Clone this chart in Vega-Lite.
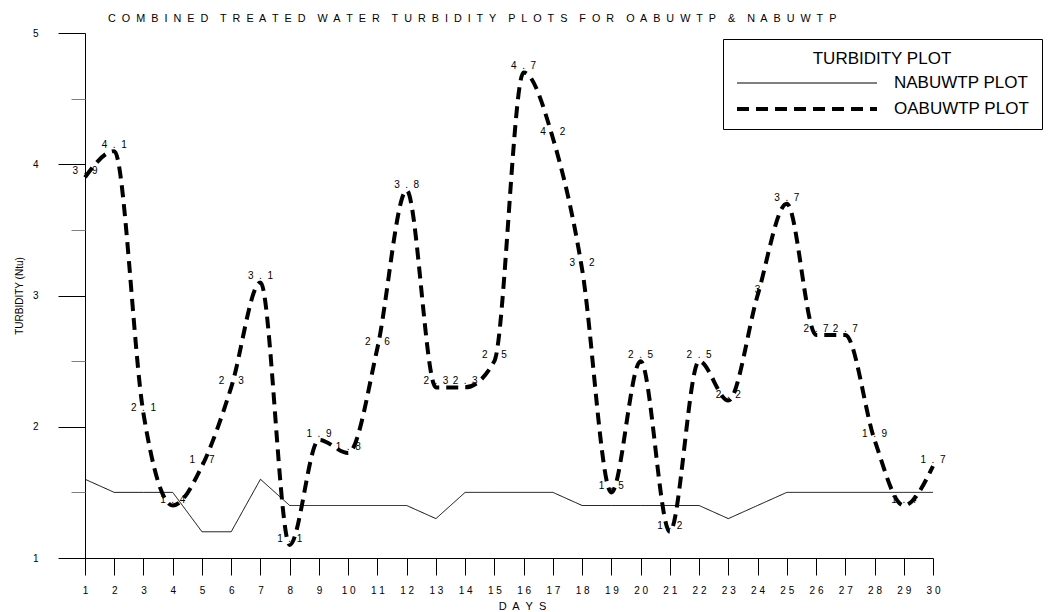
{
  "$schema": "https://vega.github.io/schema/vega-lite/v6.json",
  "width": 848,
  "height": 525,
  "autosize": {"type": "none"},
  "padding": {"left": 85, "top": 33, "right": 124, "bottom": 54},
  "background": "white",
  "config": {
    "font": "Liberation Sans",
    "view": {"stroke": null},
    "axis": {"domainColor": "#000", "tickColor": "#000", "labelColor": "#000", "titleColor": "#000", "grid": false, "titleFontWeight": "normal", "labelFont": "Liberation Sans", "titleFont": "Liberation Sans"},
    "legend": {"labelFont": "Liberation Sans", "titleFont": "Liberation Sans"}
  },
  "title": {
    "text": "C\u00a0 O\u00a0 M\u00a0 B\u00a0 I\u00a0 N\u00a0 E\u00a0 D\u00a0 \u00a0 T\u00a0 R\u00a0 E\u00a0 A\u00a0 T\u00a0 E\u00a0 D\u00a0 \u00a0 W\u00a0 A\u00a0 T\u00a0 E\u00a0 R\u00a0 \u00a0 T\u00a0 U\u00a0 R\u00a0 B\u00a0 I\u00a0 D\u00a0 I\u00a0 T\u00a0 Y\u00a0 \u00a0 P\u00a0 L\u00a0 O\u00a0 T\u00a0 S\u00a0 \u00a0 F\u00a0 O\u00a0 R\u00a0 \u00a0 O\u00a0 A\u00a0 B\u00a0 U\u00a0 W\u00a0 T\u00a0 P\u00a0 \u00a0 &\u00a0 \u00a0 N\u00a0 A\u00a0 B\u00a0 U\u00a0 W\u00a0 T\u00a0 P",
    "anchor": "start",
    "frame": "group",
    "dx": 23,
    "dy": 17,
    "offset": 12,
    "baseline": "alphabetic",
    "fontSize": 10.8,
    "fontWeight": "normal",
    "font": "Liberation Sans",
    "color": "#000"
  },
  "data": {
    "values": [
      {"day": 1, "series": "NABUWTP PLOT", "value": 1.6},
      {"day": 2, "series": "NABUWTP PLOT", "value": 1.5},
      {"day": 3, "series": "NABUWTP PLOT", "value": 1.5},
      {"day": 4, "series": "NABUWTP PLOT", "value": 1.5},
      {"day": 5, "series": "NABUWTP PLOT", "value": 1.2},
      {"day": 6, "series": "NABUWTP PLOT", "value": 1.2},
      {"day": 7, "series": "NABUWTP PLOT", "value": 1.6},
      {"day": 8, "series": "NABUWTP PLOT", "value": 1.4},
      {"day": 9, "series": "NABUWTP PLOT", "value": 1.4},
      {"day": 10, "series": "NABUWTP PLOT", "value": 1.4},
      {"day": 11, "series": "NABUWTP PLOT", "value": 1.4},
      {"day": 12, "series": "NABUWTP PLOT", "value": 1.4},
      {"day": 13, "series": "NABUWTP PLOT", "value": 1.3},
      {"day": 14, "series": "NABUWTP PLOT", "value": 1.5},
      {"day": 15, "series": "NABUWTP PLOT", "value": 1.5},
      {"day": 16, "series": "NABUWTP PLOT", "value": 1.5},
      {"day": 17, "series": "NABUWTP PLOT", "value": 1.5},
      {"day": 18, "series": "NABUWTP PLOT", "value": 1.4},
      {"day": 19, "series": "NABUWTP PLOT", "value": 1.4},
      {"day": 20, "series": "NABUWTP PLOT", "value": 1.4},
      {"day": 21, "series": "NABUWTP PLOT", "value": 1.4},
      {"day": 22, "series": "NABUWTP PLOT", "value": 1.4},
      {"day": 23, "series": "NABUWTP PLOT", "value": 1.3},
      {"day": 24, "series": "NABUWTP PLOT", "value": 1.4},
      {"day": 25, "series": "NABUWTP PLOT", "value": 1.5},
      {"day": 26, "series": "NABUWTP PLOT", "value": 1.5},
      {"day": 27, "series": "NABUWTP PLOT", "value": 1.5},
      {"day": 28, "series": "NABUWTP PLOT", "value": 1.5},
      {"day": 29, "series": "NABUWTP PLOT", "value": 1.5},
      {"day": 30, "series": "NABUWTP PLOT", "value": 1.5},
      {"day": 1, "series": "OABUWTP PLOT", "value": 3.9, "label": "3\u00a0 .\u00a0 9"},
      {"day": 2, "series": "OABUWTP PLOT", "value": 4.1, "label": "4\u00a0 .\u00a0 1"},
      {"day": 3, "series": "OABUWTP PLOT", "value": 2.1, "label": "2\u00a0 .\u00a0 1"},
      {"day": 4, "series": "OABUWTP PLOT", "value": 1.4, "label": "1\u00a0 .\u00a0 4"},
      {"day": 5, "series": "OABUWTP PLOT", "value": 1.7, "label": "1\u00a0 .\u00a0 7"},
      {"day": 6, "series": "OABUWTP PLOT", "value": 2.3, "label": "2\u00a0 .\u00a0 3"},
      {"day": 7, "series": "OABUWTP PLOT", "value": 3.1, "label": "3\u00a0 .\u00a0 1"},
      {"day": 8, "series": "OABUWTP PLOT", "value": 1.1, "label": "1\u00a0 .\u00a0 1"},
      {"day": 9, "series": "OABUWTP PLOT", "value": 1.9, "label": "1\u00a0 .\u00a0 9"},
      {"day": 10, "series": "OABUWTP PLOT", "value": 1.8, "label": "1\u00a0 .\u00a0 8"},
      {"day": 11, "series": "OABUWTP PLOT", "value": 2.6, "label": "2\u00a0 .\u00a0 6"},
      {"day": 12, "series": "OABUWTP PLOT", "value": 3.8, "label": "3\u00a0 .\u00a0 8"},
      {"day": 13, "series": "OABUWTP PLOT", "value": 2.3, "label": "2\u00a0 .\u00a0 3"},
      {"day": 14, "series": "OABUWTP PLOT", "value": 2.3, "label": "2\u00a0 .\u00a0 3"},
      {"day": 15, "series": "OABUWTP PLOT", "value": 2.5, "label": "2\u00a0 .\u00a0 5"},
      {"day": 16, "series": "OABUWTP PLOT", "value": 4.7, "label": "4\u00a0 .\u00a0 7"},
      {"day": 17, "series": "OABUWTP PLOT", "value": 4.2, "label": "4\u00a0 .\u00a0 2"},
      {"day": 18, "series": "OABUWTP PLOT", "value": 3.2, "label": "3\u00a0 .\u00a0 2"},
      {"day": 19, "series": "OABUWTP PLOT", "value": 1.5, "label": "1\u00a0 .\u00a0 5"},
      {"day": 20, "series": "OABUWTP PLOT", "value": 2.5, "label": "2\u00a0 .\u00a0 5"},
      {"day": 21, "series": "OABUWTP PLOT", "value": 1.2, "label": "1\u00a0 .\u00a0 2"},
      {"day": 22, "series": "OABUWTP PLOT", "value": 2.5, "label": "2\u00a0 .\u00a0 5"},
      {"day": 23, "series": "OABUWTP PLOT", "value": 2.2, "label": "2\u00a0 .\u00a0 2"},
      {"day": 24, "series": "OABUWTP PLOT", "value": 3.0, "label": "3"},
      {"day": 25, "series": "OABUWTP PLOT", "value": 3.7, "label": "3\u00a0 .\u00a0 7"},
      {"day": 26, "series": "OABUWTP PLOT", "value": 2.7, "label": "2\u00a0 .\u00a0 7"},
      {"day": 27, "series": "OABUWTP PLOT", "value": 2.7, "label": "2\u00a0 .\u00a0 7"},
      {"day": 28, "series": "OABUWTP PLOT", "value": 1.9, "label": "1\u00a0 .\u00a0 9"},
      {"day": 29, "series": "OABUWTP PLOT", "value": 1.4, "label": "1\u00a0 .\u00a0 4"},
      {"day": 30, "series": "OABUWTP PLOT", "value": 1.7, "label": "1\u00a0 .\u00a0 7"}
    ]
  },
  "encoding": {
    "x": {
      "field": "day",
      "type": "quantitative",
      "scale": {"domain": [1, 30], "nice": false, "zero": false},
      "axis": {
        "values": [1,2,3,4,5,6,7,8,9,10,11,12,13,14,15,16,17,18,19,20,21,22,23,24,25,26,27,28,29,30],
        "labelExpr": "length(datum.label) > 1 ? slice(datum.label, 0, 1) + ' ' + slice(datum.label, 1) : datum.label",
        "tickSize": 17,
        "labelPadding": 10,
        "labelFontSize": 10,
        "labelFlush": false,
        "labelOverlap": false,
        "title": "D\u00a0 A\u00a0 Y\u00a0 S",
        "titleFontSize": 11,
        "titleX": 437,
        "titleY": 48,
        "titleAlign": "center",
        "titleBaseline": "middle",
        "domainWidth": 1,
        "tickWidth": 1
      }
    }
  },
  "layer": [
    {
      "transform": [{"filter": "datum.series === 'NABUWTP PLOT'"}],
      "mark": {"type": "line", "interpolate": "linear"},
      "encoding": {
        "y": {
          "field": "value",
          "type": "quantitative",
          "scale": {"domain": [1, 5], "nice": false, "zero": false},
          "axis": {
            "orient": "left",
            "values": [1, 2, 3, 4, 5],
            "tickSize": 27,
            "labelPadding": 20,
            "labelFontSize": 10,
            "labelFlush": false,
            "labelOverlap": false,
            "title": "TURBIDITY (Ntu)",
            "titleFontSize": 10,
            "titlePadding": 8
          }
        },
        "color": {"field": "series", "type": "nominal", "scale": {"domain": ["NABUWTP PLOT", "OABUWTP PLOT"], "range": ["#000000", "#000000"]}, "legend": {
          "title": "TURBIDITY PLOT",
          "orient": "none",
          "legendX": 638,
          "legendY": 6,
          "padding": 12,
          "strokeColor": "#000",
          "fillColor": "white",
          "symbolType": "stroke",
          "symbolSize": 19600,
          "symbolStrokeColor": "#000",
          "clipHeight": 16,
          "rowPadding": 9,
          "labelOffset": 15,
          "labelFontSize": 17,
          "labelColor": "#000",
          "labelLimit": 300,
          "labelExpr": "datum.label + '\u00a0\u00a0\u00a0\u00a0\u00a0'",
          "titleFontSize": 17,
          "titleFontWeight": "normal",
          "titleColor": "#000",
          "titleAnchor": "middle",
          "titlePadding": 7,
          "encode": {
            "symbols": {
              "update": {
                "strokeDash": [{"test": "datum.value === 'OABUWTP PLOT'", "value": [19, 19]}, {"value": [1, 0]}],
                "strokeWidth": [{"test": "datum.value === 'OABUWTP PLOT'", "value": 3.5}, {"value": 1}]
              }
            }
          }
        }},
        "strokeDash": {"field": "series", "type": "nominal", "scale": {"domain": ["NABUWTP PLOT", "OABUWTP PLOT"], "range": [[1, 0], [12, 7]]}, "legend": null},
        "strokeWidth": {"field": "series", "type": "nominal", "scale": {"domain": ["NABUWTP PLOT", "OABUWTP PLOT"], "range": [1, 4]}, "legend": null}
      }
    },
    {
      "transform": [{"filter": "datum.series === 'OABUWTP PLOT'"}],
      "mark": {"type": "line", "interpolate": "monotone"},
      "encoding": {
        "y": {"field": "value", "type": "quantitative", "axis": null},
        "color": {"field": "series", "type": "nominal"},
        "strokeDash": {"field": "series", "type": "nominal", "legend": null},
        "strokeWidth": {"field": "series", "type": "nominal", "legend": null}
      }
    },
    {
      "transform": [{"filter": "datum.series === 'OABUWTP PLOT'"}],
      "mark": {"type": "text", "baseline": "middle", "align": "center", "dy": -6, "fontSize": 10, "color": "#000", "font": "Liberation Sans"},
      "encoding": {
        "y": {
          "field": "value",
          "type": "quantitative",
          "axis": {
            "orient": "left",
            "values": [1.5, 2.5, 3.5, 4.5],
            "tickSize": 14,
            "tickColor": "#808080",
            "labels": false,
            "domain": false,
            "title": null
          }
        },
        "text": {"field": "label", "type": "nominal"}
      }
    }
  ],
  "resolve": {"axis": {"y": "independent"}}
}
